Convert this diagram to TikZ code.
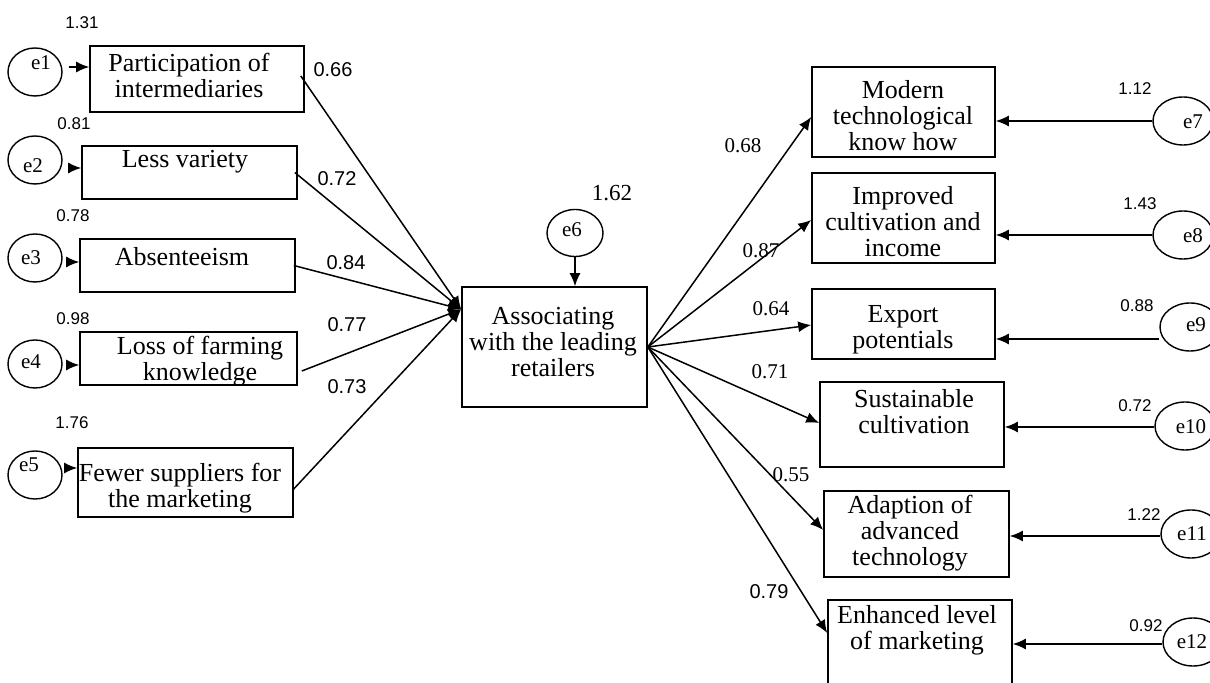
\documentclass[tikz,border=0pt]{standalone}
\usepackage{fontspec}
\setmainfont{Liberation Serif}
\newfontfamily\arialf{Liberation Sans}
\usetikzlibrary{shapes.geometric,arrows.meta,fit,calc}
\begin{document}
\begin{tikzpicture}[x=0.5pt,y=-0.5pt,
  box/.style={draw, line width=0.8pt, inner sep=0pt, rectangle},
  err/.style={draw, ellipse, fill=white, line width=0.7pt, inner sep=0pt, minimum width=27pt, minimum height=24pt},
  errr/.style={err, minimum width=30pt},
  txt/.style={font=\fontsize{13}{13}\selectfont, align=center, inner sep=0pt},
  elab/.style={font=\fontsize{10.5}{12}\selectfont, inner sep=0pt},
  var/.style={font=\arialf\fontsize{8.5}{10}\selectfont, inner sep=0pt},
  cs/.style={font=\arialf\fontsize{10}{12}\selectfont, inner sep=0pt},
  cr/.style={font=\fontsize{10.5}{12}\selectfont, inner sep=0pt},
  arr/.style={line width=0.75pt, -{Latex[length=6.5pt,width=5.5pt]}},
]
\useasboundingbox (0,0) rectangle (1210,683);
\clip (0,0) rectangle (1210,683);

% boxes
\node[box, fit={(90,46)(304,112)}] (b1) {};
\node[box, fit={(82,146)(297,199)}] (b2) {};
\node[box, fit={(80,239)(295,292)}] (b3) {};
\node[box, fit={(80,332)(297,385)}] (b4) {};
\node[box, fit={(78,448)(293,517)}] (b5) {};
\node[box, fit={(462,287)(647,407)}] (c) {};
\node[box, fit={(812,67)(995,157)}] (b7) {};
\node[box, fit={(812,173)(995,263)}] (b8) {};
\node[box, fit={(812,289)(995,359)}] (b9) {};
\node[box, fit={(820,382)(1004,467)}] (b10) {};
\node[box, fit={(824,491)(1009,577)}] (b11) {};
\node[box, fit={(828,600)(1012,700)}] (b12) {};

% box texts
\node[txt] (t1) at (189,75) {Participation of\\intermediaries};
\node[txt] (t2) at (185,162) {Less variety};
\node[txt] (t3) at (182,257) {Absenteeism};
\node[txt] (t4) at (200,361) {Loss of farming\\knowledge};
\node[txt] (t5) at (180,488) {Fewer suppliers for\\the marketing};
\node[txt] (tc) at (553,342) {Associating\\with the leading\\retailers};
\node[txt] (t7) at (903,116) {Modern\\technological\\know how};
\node[txt] (t8) at (903,222) {Improved\\cultivation and\\income};
\node[txt] (t9) at (903,330) {Export\\potentials};
\node[txt] (t10) at (914,412) {Sustainable\\cultivation};
\node[txt] (t11) at (910,533) {Adaption of\\advanced\\technology};
\node[txt] (t12) at (917,630) {Enhanced level\\of marketing};

% variances
\node[var] (v1) at (82,23) {1.31};
\node[var] (v2) at (74,124) {0.81};
\node[var] (v3) at (73,216) {0.78};
\node[var] (v4) at (73,319) {0.98};
\node[var] (v5) at (72,423) {1.76};
\node[var] (v7) at (1135,89) {1.12};
\node[var] (v8) at (1140,204) {1.43};
\node[var] (v9) at (1137,306) {0.88};
\node[var] (v10) at (1135,406) {0.72};
\node[var] (v11) at (1144,515) {1.22};
\node[var] (v12) at (1146,626) {0.92};
\node[cr, font=\fontsize{11.5}{13}\selectfont] (v6) at (612,193) {1.62};

% coefficients
\node[cs] (w1) at (333,70) {0.66};
\node[cs] (w2) at (337,179) {0.72};
\node[cs] (w3) at (346,263) {0.84};
\node[cs] (w4) at (347,325) {0.77};
\node[cs] (w5) at (347,387) {0.73};
\node[cr] (w7) at (743,146) {0.68};
\node[cr] (w8) at (761,251) {0.87};
\node[cr] (w9) at (771,309) {0.64};
\node[cr] (w10) at (770,372) {0.71};
\node[cr] (w11) at (791,475) {0.55};
\node[cs] (w12) at (769,592) {0.79};

% error terms
\node[err] (e1) at (35,72) {};
\node[err] (e2) at (35,160) {};
\node[err] (e3) at (35,258) {};
\node[err] (e4) at (35,364) {};
\node[err] (e5) at (35,475) {};
\node[err, minimum width=28pt, minimum height=23.5pt] (e6) at (575,233) {};
\node[errr] (e7) at (1183,121) {};
\node[errr] (e8) at (1183,235) {};
\node[errr] (e9) at (1190,327) {};
\node[errr] (e10) at (1185,426) {};
\node[errr] (e11) at (1191,534) {};
\node[errr] (e12) at (1193,642) {};
\node[elab] (le1) at (41,63) {e1};
\node[elab] (le2) at (33,166) {e2};
\node[elab] (le3) at (31,258) {e3};
\node[elab] (le4) at (31,362) {e4};
\node[elab] (le5) at (29,465) {e5};
\node[elab] (le6) at (572,230) {e6};
\node[elab] (le7) at (1193,122) {e7};
\node[elab] (le8) at (1193,236) {e8};
\node[elab] (le9) at (1196,325) {e9};
\node[elab] (le10) at (1191,427) {e10};
\node[elab] (le11) at (1192,534) {e11};
\node[elab] (le12) at (1192,642) {e12};

% error arrows
\draw[arr, shorten <=3pt] (e1.east |- 0,67) -- (b1.west |- 0,67);
\draw[arr, shorten <=3pt] (e2.east |- 0,168) -- (b2.west |- 0,168);
\draw[arr, shorten <=3pt] (e3.east |- 0,262) -- (b3.west |- 0,262);
\draw[arr, shorten <=3pt] (e4.east |- 0,365) -- (b4.west |- 0,365);
\draw[arr, shorten <=3pt] (e5.east |- 0,468) -- (b5.west |- 0,468);
\draw[arr] (e6.south) -- (e6.south |- c.north);
\draw[arr] (e7.west |- 0,121) -- (b7.east |- 0,121);
\draw[arr] (e8.west |- 0,235) -- (b8.east |- 0,235);
\draw[arr] (e9.west |- 0,339) -- (b9.east |- 0,339);
\draw[arr] (e10.west |- 0,427) -- (b10.east |- 0,427);
\draw[arr] (e11.west |- 0,536) -- (b11.east |- 0,536);
\draw[arr] (e12.west |- 0,644) -- (b12.east |- 0,644);

% paths into the latent
\coordinate (cin) at ($(c.north west)+(0,23)$);
\draw[arr] ($(b1.east)+(-4,-3)$) -- (cin);
\draw[arr] ($(b2.east)+(-3,0)$) -- (cin);
\draw[arr] ($(b3.east)+(-2,0)$) -- (cin);
\draw[arr] ($(b4.east)+(4,12.5)$) -- (cin);
\draw[arr] ($(b5.east)+(-1,7.5)$) -- (cin);

% paths out of the latent
\draw[arr] (c.east) -- ($(b7.west)+(0,5)$);
\draw[arr] (c.east) -- ($(b8.west)+(0,2)$);
\draw[arr] (c.east) -- ($(b9.west)+(0,1)$);
\draw[arr] (c.east) -- ($(b10.west)+(0,-1.5)$);
\draw[arr] (c.east) -- ($(b11.west)+(0,-4)$);
\draw[arr] (c.east) -- ($(b12.west)+(0,-17)$);
\end{tikzpicture}
\end{document}
